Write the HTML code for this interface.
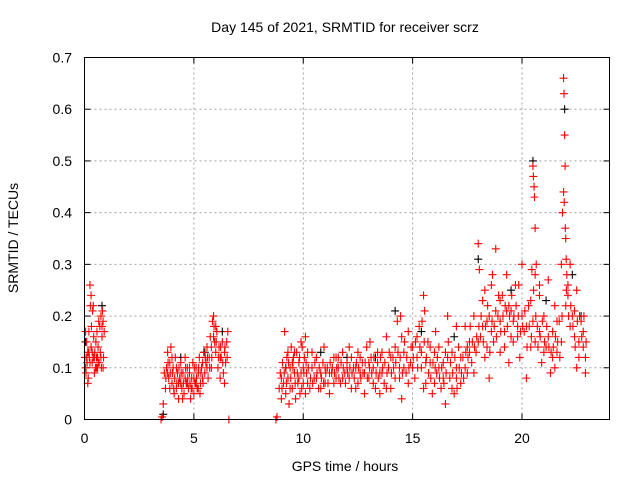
<!DOCTYPE html>
<html><head><meta charset="utf-8"><style>
body{margin:0;background:#fff;}
svg{display:block;font-family:"Liberation Sans",sans-serif;}
</style></head><body>
<svg id="chart" width="640" height="480" xmlns="http://www.w3.org/2000/svg">
<text x="345" y="32" font-size="14" text-anchor="middle">Day 145 of 2021, SRMTID for receiver scrz</text>
<text x="345" y="471" font-size="14" text-anchor="middle">GPS time / hours</text>
<text transform="translate(18,238) rotate(-90)" font-size="14" text-anchor="middle">SRMTID / TECUs</text>
<g id="grid"></g>
<g id="ticks"></g>
<g id="black"></g>
<g id="red"></g>
<rect x="84.5" y="57.5" width="525" height="362" fill="none" stroke="#000"/>
</svg>
<script>
const xTicks=[0,5,10,15,20];
const yTicks=[0,0.1,0.2,0.3,0.4,0.5,0.6,0.7];
const yTickLabels=["0","0.1","0.2","0.3","0.4","0.5","0.6","0.7"];
const redSeg1=[[0.02,0.12],[0.05,0.17],[0.07,0.09],[0.1,0.15],[0.12,0.11],[0.15,0.13],[0.17,0.08],[0.2,0.17],[0.22,0.12],[0.25,0.26],[0.27,0.22],[0.3,0.14],[0.32,0.18],[0.35,0.11],[0.37,0.21],[0.4,0.12],[0.42,0.16],[0.45,0.09],[0.47,0.13],[0.5,0.1],[0.52,0.15],[0.55,0.12],[0.57,0.17],[0.6,0.1],[0.62,0.14],[0.65,0.19],[0.67,0.11],[0.7,0.18],[0.72,0.13],[0.75,0.2],[0.77,0.1],[0.8,0.16],[0.82,0.21],[0.85,0.19],[0.87,0.12],[0.9,0.17],[0.05,0.1],[0.15,0.07],[0.3,0.24],[0.4,0.22],[0.2,0.13],[0.6,0.12],[0.8,0.18],[0.1,0.12],[0.25,0.11],[0.35,0.13],[0.45,0.12],[0.55,0.1],[0.65,0.11],[0.75,0.12],[0.85,0.1]];
const redSeg2=[[3.5,0.0],[3.55,0.005],[3.6,0.03],[3.65,0.09],[3.7,0.06],[3.75,0.1],[3.8,0.13],[3.85,0.08],[3.9,0.11],[3.95,0.14],[4.0,0.07],[4.05,0.1],[4.1,0.05],[4.15,0.12],[4.2,0.06],[4.25,0.09],[4.3,0.04],[4.35,0.08],[4.4,0.11],[4.45,0.06],[4.5,0.09],[4.55,0.05],[4.6,0.12],[4.65,0.07],[4.7,0.1],[4.75,0.06],[4.8,0.09],[4.85,0.04],[4.9,0.08],[4.95,0.11],[5.0,0.05],[5.05,0.07],[5.1,0.1],[5.15,0.06],[5.2,0.09],[5.25,0.12],[5.3,0.07],[5.35,0.1],[5.4,0.08],[5.45,0.13],[5.5,0.09],[5.55,0.11],[5.6,0.14],[5.65,0.08],[5.7,0.12],[5.75,0.16],[5.8,0.1],[5.85,0.19],[5.9,0.2],[5.95,0.15],[6.0,0.13],[6.05,0.17],[6.1,0.1],[6.15,0.14],[6.2,0.08],[6.25,0.12],[6.3,0.15],[6.35,0.09],[6.4,0.13],[6.45,0.11],[6.5,0.15],[6.55,0.17],[6.6,0.0],[3.8,0.09],[3.9,0.06],[4.0,0.12],[4.2,0.1],[4.4,0.07],[4.6,0.08],[4.8,0.1],[5.0,0.08],[5.2,0.06],[5.4,0.11],[5.6,0.1],[5.8,0.14],[6.0,0.18],[6.2,0.12],[6.4,0.07],[4.3,0.07],[4.7,0.07],[5.1,0.07],[5.9,0.16],
[3.72,0.08],[3.82,0.11],[3.92,0.09],[4.02,0.09],[4.12,0.08],[4.22,0.07],[4.32,0.1],[4.42,0.09],[4.52,0.07],[4.62,0.1],[4.72,0.08],[4.82,0.07],[4.92,0.06],[5.02,0.1],[5.12,0.08],[5.22,0.1],[5.32,0.09],[5.42,0.07],[5.52,0.12],[5.62,0.12],[5.72,0.1],[5.82,0.12],[5.92,0.18],[6.02,0.15],[6.12,0.12],[6.22,0.14],[6.32,0.11],[6.42,0.14],[6.52,0.12],[4.08,0.06],[4.48,0.04],[4.88,0.06],[5.28,0.05]];
const redSeg3=[[8.75,0.0],[8.8,0.005],[8.9,0.06],[8.95,0.09],[9.0,0.04],[9.05,0.11],[9.1,0.07],[9.15,0.17],[9.2,0.05],[9.25,0.12],[9.3,0.08],[9.35,0.03],[9.4,0.1],[9.45,0.14],[9.5,0.06],[9.55,0.12],[9.6,0.09],[9.65,0.04],[9.7,0.13],[9.75,0.07],[9.8,0.11],[9.85,0.05],[9.9,0.09],[9.95,0.14],[10.0,0.07],[10.05,0.12],[10.1,0.16],[10.15,0.09],[10.2,0.13],[10.3,0.06],[10.4,0.1],[10.5,0.08],[10.6,0.12],[10.7,0.06],[10.8,0.09],[10.9,0.11],[11.0,0.07],[11.1,0.1],[11.2,0.05],[11.3,0.09],[11.4,0.12],[11.5,0.08],[11.6,0.1],[11.7,0.07],[11.8,0.13],[11.9,0.09],[12.0,0.11],[12.1,0.08],[12.2,0.12],[12.3,0.1],[12.4,0.06],[12.5,0.13],[12.6,0.09],[12.7,0.11],[12.8,0.05],[12.9,0.14],[13.0,0.08],[13.1,0.12],[13.2,0.1],[13.3,0.06],[13.4,0.11],[13.5,0.09],[13.6,0.13],[13.7,0.07],[13.8,0.16],[13.9,0.1],[14.0,0.06],[14.1,0.12],[14.2,0.08],[14.3,0.19],[14.4,0.1],[14.5,0.04],[14.6,0.13],[14.7,0.09],[14.8,0.17],[14.9,0.11],[15.0,0.14],[15.1,0.08],[15.2,0.12],[15.3,0.18],[15.4,0.1],[15.5,0.24],[15.6,0.07],[15.7,0.15],[15.8,0.11],[15.9,0.05],[16.0,0.13],[16.1,0.09],[16.2,0.14],[16.3,0.06],[16.4,0.11],[16.5,0.03],[16.6,0.2],[16.7,0.08],[16.8,0.13],[16.9,0.05],[17.0,0.1],[17.1,0.14],[17.2,0.07],[17.3,0.12],[17.4,0.18],[17.5,0.09],[17.6,0.15],[17.7,0.11],[17.8,0.2],[17.9,0.13],[18.0,0.34],[18.05,0.29],[18.1,0.16],[18.2,0.23],[18.3,0.12],[18.4,0.19],[18.5,0.08],[18.6,0.26],[18.7,0.15],[18.8,0.33],[18.9,0.2],[19.0,0.13],[19.1,0.24],[19.2,0.17],[19.3,0.28],[19.4,0.11],[19.5,0.21],[19.6,0.15],[19.7,0.26],[19.8,0.18],[19.9,0.12],[20.0,0.3],[20.1,0.17],[20.2,0.08],[20.3,0.22],[20.4,0.14],[20.5,0.49],[20.52,0.47],[20.55,0.45],[20.57,0.43],[20.6,0.37],[20.65,0.3],[20.7,0.18],[20.8,0.26],[20.9,0.11],[21.0,0.2],[21.1,0.14],[21.2,0.27],[21.3,0.09],[21.4,0.17],[21.5,0.22],[21.6,0.13],[21.7,0.19],[21.8,0.3],[21.85,0.4],[21.9,0.66],[21.92,0.63],[21.95,0.55],[21.97,0.49],[21.9,0.44],[22.0,0.35],[22.05,0.28],[22.1,0.24],[22.2,0.3],[22.3,0.2],[22.4,0.16],[22.5,0.25],[22.6,0.12],[22.7,0.19],[22.8,0.14],[22.9,0.09],
[9.0,0.08],[9.2,0.1],[9.4,0.06],[9.6,0.13],[9.8,0.08],[10.0,0.1],[10.2,0.07],[10.4,0.13],[10.6,0.08],[10.8,0.06],[11.0,0.1],[11.2,0.09],[11.4,0.07],[11.6,0.12],[11.8,0.08],[12.0,0.1],[12.2,0.06],[12.4,0.1],[12.6,0.12],[12.8,0.09],[13.0,0.11],[13.2,0.07],[13.4,0.13],[13.6,0.09],[13.8,0.06],[14.0,0.12],[14.2,0.14],[14.4,0.08],[14.6,0.1],[14.8,0.07],[15.0,0.1],[15.2,0.16],[15.4,0.13],[15.6,0.11],[15.8,0.14],[16.0,0.07],[16.2,0.1],[16.4,0.08],[16.6,0.12],[16.8,0.06],[17.0,0.08],[17.2,0.12],[17.4,0.1],[17.6,0.13],[17.8,0.09],[18.0,0.15],[18.2,0.18],[18.4,0.14],[18.6,0.17],[18.8,0.21],[19.0,0.19],[19.2,0.14],[19.4,0.22],[19.6,0.19],[19.8,0.16],[20.0,0.2],[20.2,0.18],[20.4,0.23],[20.6,0.15],[20.8,0.17],[21.0,0.13],[21.2,0.16],[21.4,0.12],[21.6,0.19],[21.8,0.15],[22.0,0.22],[22.2,0.18],[22.4,0.21],[22.6,0.15],[22.8,0.17],[22.9,0.12],
[10.1,0.05],[11.5,0.12],[12.5,0.07],[13.5,0.05],[14.5,0.16],[15.5,0.06],[16.5,0.13],[17.5,0.14],[18.5,0.2],[19.5,0.16],[20.5,0.19],[21.5,0.1],[22.5,0.1],[19.0,0.23],[19.3,0.21],[18.3,0.25],[20.8,0.24],[22.1,0.26]];
const redSeg4=[[9.03,0.06],[9.13,0.09],[9.23,0.07],[9.33,0.11],[9.43,0.08],[9.53,0.1],[9.63,0.07],[9.73,0.09],[9.83,0.12],[9.93,0.06],[10.03,0.09],[10.13,0.11],[10.23,0.1],[10.33,0.08],[10.43,0.07],[10.53,0.11],[10.63,0.09],[10.73,0.1],[10.83,0.08],[10.93,0.07],[11.03,0.09],[11.13,0.07],[11.23,0.11],[11.33,0.1],[11.43,0.09],[11.53,0.1],[11.63,0.08],[11.73,0.11],[11.83,0.1],[11.93,0.07],[12.03,0.09],[12.13,0.1],[12.23,0.09],[12.33,0.08],[12.43,0.11],[12.53,0.1],[12.63,0.08],[12.73,0.09],[12.83,0.11],[12.93,0.08],[13.03,0.1],[13.13,0.09],[13.23,0.12],[13.33,0.09],[13.43,0.08],[13.53,0.12],[13.63,0.1],[13.73,0.11],[13.83,0.09],[13.93,0.13],[14.03,0.09],[14.13,0.1],[14.23,0.11],[14.33,0.13],[14.43,0.12],[14.53,0.09],[14.63,0.15],[14.73,0.12],[14.83,0.1],[14.93,0.14],[15.03,0.12],[15.13,0.15],[15.23,0.1],[15.33,0.14],[15.43,0.19],[15.53,0.15],[15.63,0.12],[15.73,0.09],[15.83,0.08],[15.93,0.11],[16.03,0.1],[16.13,0.12],[16.23,0.08],[16.33,0.1],[16.43,0.07],[16.53,0.09],[16.63,0.15],[16.73,0.11],[16.83,0.09],[16.93,0.12],[17.03,0.06],[17.13,0.1],[17.23,0.09],[17.33,0.08],[17.43,0.13],[17.53,0.12],[17.63,0.18],[17.73,0.15],[17.83,0.14],[17.93,0.16],[18.03,0.18],[18.13,0.2],[18.23,0.15],[18.33,0.18],[18.43,0.22],[18.53,0.13],[18.63,0.19],[18.73,0.18],[18.83,0.16],[18.93,0.24],[19.03,0.17],[19.13,0.2],[19.23,0.22],[19.33,0.18],[19.43,0.2],[19.53,0.24],[19.63,0.2],[19.73,0.22],[19.83,0.2],[19.93,0.17],[20.03,0.18],[20.13,0.21],[20.23,0.14],[20.33,0.18],[20.43,0.16],[20.63,0.2],[20.73,0.14],[20.83,0.16],[20.93,0.19],[21.03,0.15],[21.13,0.18],[21.23,0.14],[21.33,0.13],[21.43,0.14],[21.53,0.16],[21.63,0.15],[21.73,0.12],[21.83,0.2],[22.03,0.25],[22.13,0.2],[22.23,0.22],[22.33,0.18],[22.43,0.14],[22.53,0.19],[22.63,0.2],[22.73,0.16],[22.83,0.2],[22.93,0.15],[20.53,0.25],[20.6,0.28],[21.93,0.42],[21.98,0.37],[22.02,0.31],[20.45,0.29],[19.85,0.26],[18.65,0.28],[14.45,0.2],[15.55,0.21],[16.05,0.17],[17.0,0.18],[13.05,0.15],[12.1,0.14],[10.95,0.14],[9.9,0.15],[9.5,0.11],[9.3,0.13]];
const blackPts=[[0.05,0.15],[0.8,0.22],[3.6,0.01],[4.4,0.12],[5.5,0.13],[6.3,0.17],[9.2,0.1],[10.8,0.13],[12.0,0.12],[13.3,0.12],[14.2,0.21],[15.4,0.17],[16.9,0.16],[18.0,0.31],[19.5,0.25],[20.5,0.5],[21.1,0.23],[21.95,0.6],[22.3,0.28],[22.7,0.2]];

const X0=84.5,X1=609.5,Y0=419.5,Y1=57.5,XMAX=24,YMAX=0.7;
const xs=t=>X0+(t/XMAX)*(X1-X0);
const ys=v=>Y0-(v/YMAX)*(Y0-Y1);
const NS="http://www.w3.org/2000/svg";
function mk(tag,attrs,parent){const e=document.createElementNS(NS,tag);for(const k in attrs)e.setAttribute(k,attrs[k]);parent.appendChild(e);return e;}
const grid=document.getElementById('grid'),ticks=document.getElementById('ticks');
xTicks.forEach(t=>{
  const x=xs(t);
  if(t>0){const g=mk('line',{x1:x,x2:x,y1:Y1,y2:Y0,stroke:'#a0a0a0','stroke-dasharray':'2,3'},grid);
  
  }
  mk('line',{x1:x,x2:x,y1:Y0,y2:Y0-6,stroke:'#000'},ticks);
  mk('line',{x1:x,x2:x,y1:Y1,y2:Y1+6,stroke:'#000'},ticks);
  const l=mk('text',{x:x,y:443,'font-size':14,'text-anchor':'middle'},ticks);l.textContent=t;
  
  
});
yTicks.forEach((v,i)=>{
  const y=ys(v);
  if(v>0&&v<0.7){const g=mk('line',{x1:X0,x2:X1,y1:y,y2:y,stroke:'#a0a0a0','stroke-dasharray':'2,3'},grid);
  
  }
  mk('line',{x1:X0,x2:X0+6,y1:y,y2:y,stroke:'#000'},ticks);
  mk('line',{x1:X1,x2:X1-6,y1:y,y2:y,stroke:'#000'},ticks);
  const l=mk('text',{x:72,y:y+5,'font-size':14,'text-anchor':'end'},ticks);l.textContent=yTickLabels[i];
  
  
});
function plus(pts,g,color,name){
  let d='';
  pts.forEach(p=>{const x=xs(p[0]),y=ys(p[1]);d+=`M${x-4},${y}h8M${x},${y-4}v8`;});
  const path=mk('path',{d:d,stroke:color,'stroke-width':1.1,fill:'none'},g);
  
  
}
plus(blackPts,document.getElementById('black'),'#000','black-points');
plus(redSeg1.concat(redSeg2,redSeg3,redSeg4),document.getElementById('red'),'#ff0000','red-points');
</script>
</body></html>
